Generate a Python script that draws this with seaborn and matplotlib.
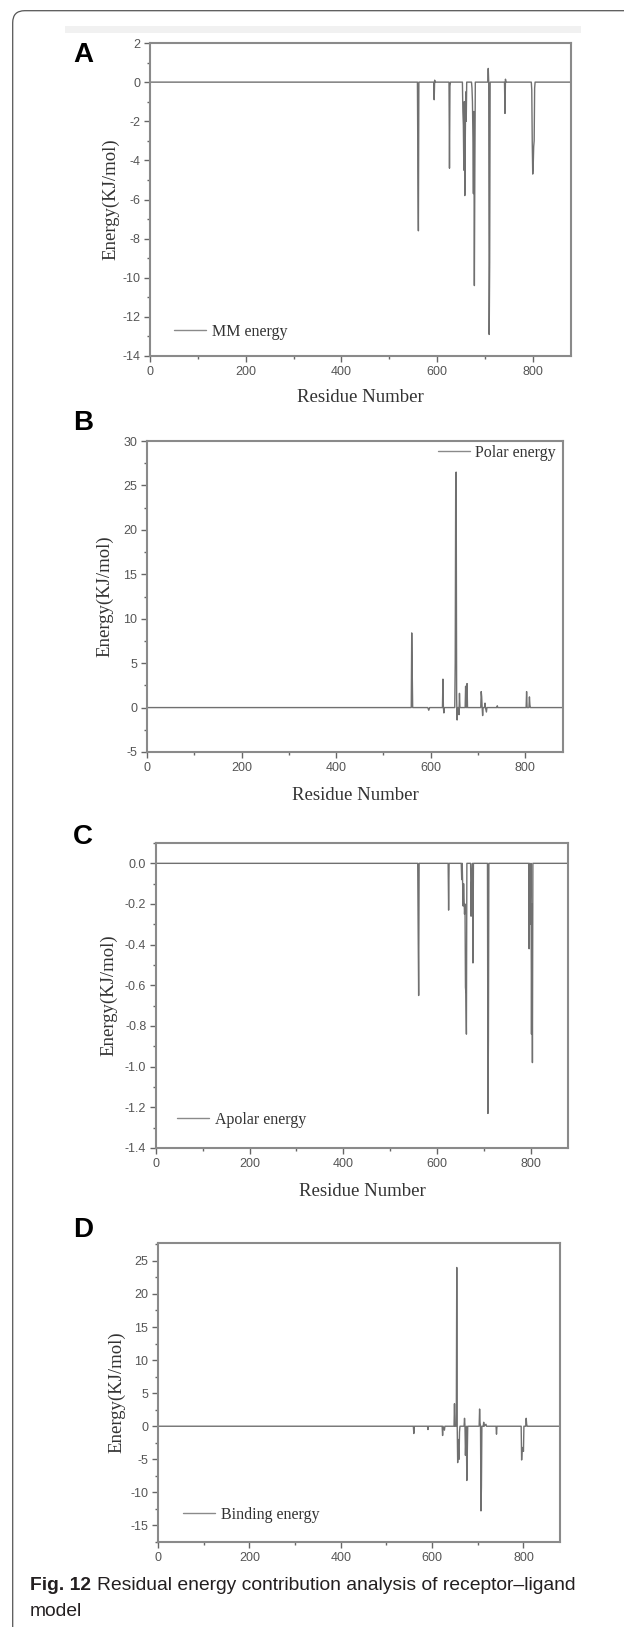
import matplotlib
matplotlib.use("Agg")
import matplotlib.pyplot as plt
import matplotlib.patches as mpatches
from matplotlib.transforms import IdentityTransform
from matplotlib.ticker import MultipleLocator, FormatStrFormatter
import pandas as pd
import seaborn as sns

# Per-residue energy contributions (residue, energy in KJ/mol); zero elsewhere
mm_points = [(1, 0), (559, 0), (560, -4.5), (561, -7.6), (562, 0), (593, 0), (594, -0.9), (595, 0.1),
             (596, 0), (625, 0), (626, -4.4), (627, -0.2), (628, 0), (653, 0), (654, -1.5), (655, -2.2),
             (656, -4.5), (657, -1.0), (658, -5.8), (659, -3.0), (660, -0.5), (661, -2.0), (662, 0),
             (672, 0), (673, -0.3), (674, -1.0), (675, -2.8), (676, -5.7), (677, -1.5), (678, -10.4),
             (679, -4.5), (680, 0), (706, 0), (707, 0.7), (708, 0), (709, -12.9), (710, -9.2), (711, 0),
             (741, 0), (742, -1.6), (743, 0.15), (744, 0), (797, 0), (798, -0.4), (799, -3.1), (800, -4.7),
             (801, -4.3), (802, -3.3), (803, -3.0), (804, -0.3), (805, 0), (880, 0)]

polar_points = [(1, 0), (559, 0), (560, 8.4), (561, 4.3), (562, 0), (594, 0), (596, -0.3), (598, 0),
                (625, 0), (626, 3.2), (627, 0), (628, -0.6), (629, 0), (651, 0), (652, 5.0), (653, 24.5),
                (654, 26.5), (655, 1.0), (656, -1.4), (657, 0), (659, 0), (660, -0.8), (661, 1.6), (662, 0),
                (673, 0), (674, 2.4), (675, 0), (676, 0), (677, 2.7), (678, 0), (706, 0), (707, 1.8),
                (708, 1.2), (709, 0), (710, -0.9), (711, 0), (714, 0), (715, 0.5), (716, 0), (718, -0.5),
                (719, 0), (740, 0), (741, 0.2), (742, 0), (802, 0), (803, 1.8), (804, 0), (808, 0),
                (809, 1.2), (810, 0.3), (811, 0), (880, 0)]

apolar_points = [(1, 0), (559, 0), (560, -0.34), (561, -0.65), (562, 0), (624, 0), (625, -0.23), (626, 0),
                 (652, 0), (653, -0.08), (654, 0), (656, -0.21), (657, -0.1), (659, -0.25), (660, -0.2),
                 (661, -0.61), (662, -0.64), (663, -0.84), (664, 0), (672, 0), (673, -0.26), (674, -0.1),
                 (676, 0), (677, -0.49), (678, 0), (708, 0), (709, -1.23), (710, -0.87), (711, 0),
                 (796, 0), (797, -0.42), (798, 0), (799, -0.30), (800, -0.15), (801, 0), (802, -0.84),
                 (803, -0.2), (804, -0.98), (805, 0), (880, 0)]

binding_points = [(1, 0), (559, 0), (560, -1.1), (561, 0), (590, 0), (591, -0.5), (592, 0), (622, 0),
                  (623, -1.4), (624, 0), (627, -0.6), (628, 0), (648, 0), (649, 3.4), (650, 0), (653, 0),
                  (654, 24.0), (655, 0), (656, -5.5), (657, -2.0), (658, -4.5), (659, -5.0), (660, -0.9),
                  (661, 0), (670, 0), (671, 1.2), (672, 0), (673, -4.4), (674, -2.0), (675, 0), (676, -8.2),
                  (677, -4.3), (678, 0), (703, 0), (704, 2.6), (705, 0.5), (706, 0), (707, -12.8),
                  (708, -9.2), (709, 0), (712, 0), (713, 0.6), (714, 0), (718, 0.3), (719, 0), (740, 0),
                  (741, -1.2), (742, 0), (795, 0), (796, -5.1), (797, -3.4), (798, -3.6), (799, -3.2),
                  (800, -3.8), (801, 0), (805, 0), (806, 1.2), (807, 0.3), (808, 0), (880, 0)]

panel_letters = ["A", "B", "C", "D"]
series_names = ["MM energy", "Polar energy", "Apolar energy", "Binding energy"]
x_ticks = [0, 200, 400, 600, 800]

W, H = 624, 1627
sns.set_style("white")
plt.rcParams["font.family"] = ["Liberation Sans", "DejaVu Sans"]
plt.rcParams["axes.unicode_minus"] = False

fig = plt.figure(figsize=(W / 100, H / 100), dpi=100)

# page frame (rounded top-left corner) and faint header band
fig.add_artist(mpatches.FancyBboxPatch((12.7, -40), 900, H - 10.7 + 40,
                                       boxstyle="round,pad=0,rounding_size=12", fill=False,
                                       ec="#555555", lw=0.9, transform=IdentityTransform()))
fig.add_artist(mpatches.Rectangle((65, H - 33), 516, 7, color="#f1f1f1", lw=0,
                                  transform=IdentityTransform()))

# layout in pixels: left, top, right, bottom
boxes = [(150, 43, 571, 356), (147, 441, 563, 752), (156, 843, 568, 1148), (158, 1243, 560, 1542)]
letter_y = [55, 423, 837, 1230]
ylims = [(-14, 2), (-5, 30), (-1.4, 0.1), (-17.5, 27.7)]
ymajor = [2, 5, 0.2, 5]
yminor = [1, 2.5, 0.1, 2.5]
ylabel_x = [111, 105, 109, 117]
xlabel_y = [397, 795, 1192, None]
legend_spec = [("center left", 174, 332), ("center right", 556, 453),
               ("center left", 177, 1120), ("center left", 183, 1515)]

data_sets = [mm_points, polar_points, apolar_points, binding_points]

for i, pts in enumerate(data_sets):
    l, t, r, b = boxes[i]
    ax = fig.add_axes([l / W, 1 - b / H, (r - l) / W, (b - t) / H])
    df = pd.DataFrame(pts, columns=["Residue", "Energy"])
    sns.lineplot(data=df, x="Residue", y="Energy", ax=ax, color="#707070", lw=1.0,
                 estimator=None, label=series_names[i])

    ax.set_xlim(0, 880)
    ax.set_ylim(*ylims[i])
    ax.set_xticks(x_ticks)
    ax.xaxis.set_minor_locator(MultipleLocator(100))
    ax.yaxis.set_major_locator(MultipleLocator(ymajor[i]))
    ax.yaxis.set_minor_locator(MultipleLocator(yminor[i]))
    if i == 2:
        ax.yaxis.set_major_formatter(FormatStrFormatter("%.1f"))
    ax.tick_params(which="both", direction="out", color="#666666", width=1, labelsize=9,
                   labelcolor="#555555", top=False, right=False, left=True, bottom=True)
    ax.tick_params(which="major", length=4, pad=3)
    ax.tick_params(which="minor", length=2.5)
    for sp in ax.spines.values():
        sp.set_color("#8a8a8a")
        sp.set_linewidth(1.5)

    ax.set_ylabel("Energy(KJ/mol)", family="Liberation Serif", fontsize=13.5, color="#333333",
                  va="center")
    ax.yaxis.set_label_coords((ylabel_x[i] - l) / (r - l), 0.5)
    if xlabel_y[i] is not None:
        ax.set_xlabel("Residue Number", family="Liberation Serif", fontsize=13.5, color="#333333",
                      va="center")
        ax.xaxis.set_label_coords(0.5, -(xlabel_y[i] - b) / (b - t))
    else:
        ax.set_xlabel("")

    loc, lx, ly = legend_spec[i]
    leg = ax.legend(loc=loc, bbox_to_anchor=((lx - l) / (r - l), (b - ly) / (b - t)),
                    frameon=False, borderpad=0, borderaxespad=0, handlelength=2.0,
                    handletextpad=0.35, prop={"family": "Liberation Serif", "size": 11.5})
    for h in leg.get_lines():
        h.set_color("#8a8a8a")
        h.set_linewidth(1.0)
    for tx in leg.get_texts():
        tx.set_color("#333333")

    fig.text(83 / W, 1 - letter_y[i] / H, panel_letters[i], fontsize=20, weight="bold",
             ha="center", va="center", color="black")

# caption, sized so the first line ends where the reference line ends
cap_font = ["Liberation Sans", "DejaVu Sans"]
cap_text = "Residual energy contribution analysis of receptor\u2013ligand"
renderer = fig.canvas.get_renderer()
size = 15
for _ in range(2):
    t1 = fig.text(30 / W, 1 - 1585 / H, "Fig. 12", fontsize=size, weight="bold", family=cap_font,
                  va="center", color="#231f20")
    bb1 = t1.get_window_extent(renderer)
    t2 = fig.text((bb1.x1 + 6) / W, 1 - 1585 / H, cap_text, fontsize=size, family=cap_font,
                  va="center", color="#231f20")
    bb2 = t2.get_window_extent(renderer)
    scale = (577 - 30) / (bb2.x1 - 30)
    if abs(scale - 1) < 0.01:
        break
    t1.remove()
    t2.remove()
    size *= scale
fig.text(30 / W, 1 - 1612 / H, "model", fontsize=size, family=cap_font, va="center", color="#231f20")

fig.savefig("out.png", dpi=100)
